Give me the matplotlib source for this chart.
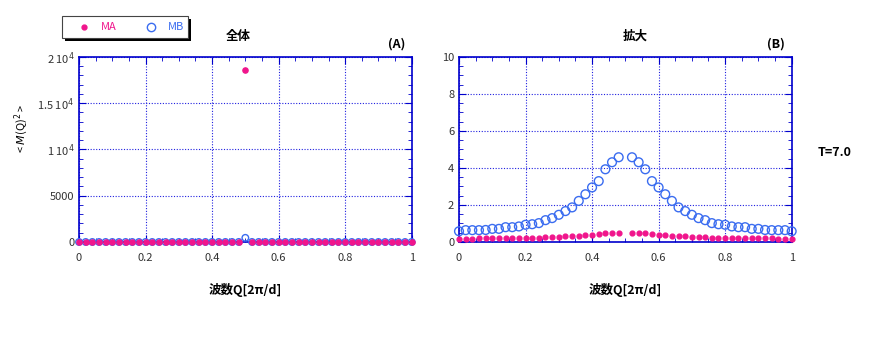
import numpy as np
import matplotlib.pyplot as plt
from matplotlib.ticker import MultipleLocator, FixedLocator, FuncFormatter

plt.rcParams['font.family'] = ['Noto Sans CJK JP', 'DejaVu Sans']

# wave number Q, step 0.02 (0.5 is the peak point)
q = [round(0.02 * i, 2) for i in range(51)]

# half of the symmetric curves, Q = 0 .. 0.48
ma_half = [0.18, 0.18, 0.18, 0.19, 0.19, 0.20, 0.20, 0.21, 0.21, 0.22,
           0.22, 0.23, 0.24, 0.25, 0.26, 0.28, 0.30, 0.32, 0.34, 0.37,
           0.40, 0.43, 0.47, 0.49, 0.50]
mb_half = [0.58, 0.64, 0.64, 0.64, 0.65, 0.71, 0.71, 0.80, 0.80, 0.84,
           0.93, 0.96, 1.02, 1.18, 1.29, 1.47, 1.67, 1.87, 2.22, 2.58,
           2.95, 3.29, 3.93, 4.31, 4.58]
ma_peak = 18600
mb_peak = 450

ma = ma_half + [ma_peak] + ma_half[::-1]
mb = mb_half + [mb_peak] + mb_half[::-1]

pink = '#f0158c'
blue = '#3a6cf0'
frame = '#0000cc'

fig = plt.figure(figsize=(8.8, 3.5), dpi=100)
axA = fig.add_axes([0.0898, 0.3086, 0.378, 0.5286])
axB = fig.add_axes([0.5216, 0.3086, 0.378, 0.5286])


def style(ax):
    for s in ax.spines.values():
        s.set_color(frame)
        s.set_linewidth(1.2)
    ax.tick_params(which='both', direction='in', top=True, right=True,
                   color=frame, labelsize=8, labelcolor='#333333')
    ax.tick_params(which='major', length=5)
    ax.tick_params(which='minor', length=3)
    ax.grid(True, which='major', color='#2020e0', linestyle=(0, (1, 1.5)), linewidth=0.8)
    ax.set_xlim(0, 1)
    ax.xaxis.set_major_locator(FixedLocator([0, 0.2, 0.4, 0.6, 0.8, 1.0]))
    ax.xaxis.set_minor_locator(MultipleLocator(0.05))
    ax.xaxis.set_major_formatter(FuncFormatter(lambda v, p: '%g' % v))
    ax.tick_params(axis='x', pad=8)
    ax.set_xlabel('波数Q[2π/d]', fontsize=9, fontweight='bold', labelpad=14)


# (A) whole range
style(axA)
axA.scatter(q, mb, s=22, facecolors='none', edgecolors=blue, linewidths=1.0, clip_on=False, zorder=3)
axA.scatter(q, ma, s=14, color=pink, clip_on=False, zorder=4)
axA.set_xlim(0, 1)
axA.set_ylim(0, 20000)
axA.yaxis.set_major_locator(FixedLocator([0, 5000, 10000, 15000, 20000]))
axA.yaxis.set_minor_locator(MultipleLocator(1000))
axA.set_yticklabels(['0', '5000', r'1 10$^4$', r'1.5 10$^4$', r'2 10$^4$'])
fig.text(21 / 880, 1 - 128 / 350, r'< $M$(Q)$^2$ >', fontsize=8, rotation=90,
         ha='center', va='center')
axA.text(0.48, 1.11, '全体', transform=axA.transAxes, fontsize=9, fontweight='bold',
         ha='center', va='center')
axA.text(0.98, 1.07, '(A)', transform=axA.transAxes, fontsize=9, fontweight='bold',
         ha='right', va='center')

# legend box with shadow
lx0, ly0 = 62 / 880, 1 - 38 / 350
lw, lh = 126 / 880, 22 / 350
fig.patches.append(plt.Rectangle((lx0 + 0.003, ly0 - 0.008), lw, lh, transform=fig.transFigure,
                                 facecolor='black', edgecolor='none'))
fig.patches.append(plt.Rectangle((lx0, ly0), lw, lh, transform=fig.transFigure,
                                 facecolor='white', edgecolor='#444444', linewidth=0.8))
fig.lines.append(plt.Line2D([84 / 880], [1 - 27 / 350], transform=fig.transFigure, marker='o',
                            markersize=3.5, color=pink, linestyle='none'))
fig.text(101 / 880, 1 - 27 / 350, 'MA', color=pink, fontsize=8, va='center')
fig.lines.append(plt.Line2D([151 / 880], [1 - 27 / 350], transform=fig.transFigure, marker='o',
                            markersize=6, markerfacecolor='none', markeredgecolor=blue,
                            linestyle='none'))
fig.text(168 / 880, 1 - 27 / 350, 'MB', color=blue, fontsize=8, va='center')

# (B) zoomed view, peak point left out
qb = [x for x in q if x != 0.5]
ma_b = [v for x, v in zip(q, ma) if x != 0.5]
mb_b = [v for x, v in zip(q, mb) if x != 0.5]
style(axB)
axB.scatter(qb, mb_b, s=40, facecolors='none', edgecolors=blue, linewidths=1.0, clip_on=False, zorder=3)
axB.scatter(qb, ma_b, s=12, color=pink, clip_on=False, zorder=4)
axB.set_xlim(0, 1)
axB.set_ylim(0, 10)
axB.yaxis.set_major_locator(MultipleLocator(2))
axB.yaxis.set_minor_locator(MultipleLocator(0.5))
axB.text(0.53, 1.11, '拡大', transform=axB.transAxes, fontsize=9, fontweight='bold',
         ha='center', va='center')
axB.text(0.98, 1.07, '(B)', transform=axB.transAxes, fontsize=9, fontweight='bold',
         ha='right', va='center')

fig.text(835 / 880, 1 - 152 / 350, 'T=7.0', fontsize=9, fontweight='bold', ha='center', va='center')

fig.savefig('out.png', dpi=100)
